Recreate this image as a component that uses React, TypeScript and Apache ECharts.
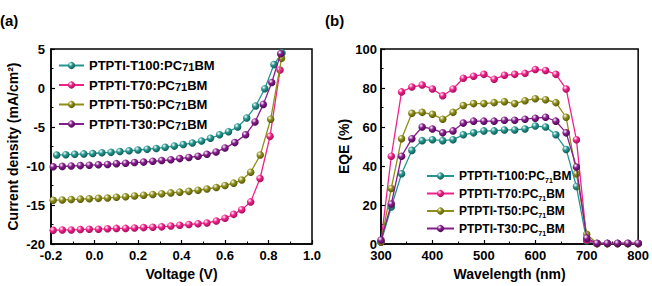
import React, { useEffect, useRef } from "react";
import * as echarts from "echarts";

const FONT = '"Liberation Sans", Arial, Helvetica, sans-serif';

const seriesNames = [
  "PTPTI-T100:PC71BM",
  "PTPTI-T70:PC71BM",
  "PTPTI-T50:PC71BM",
  "PTPTI-T30:PC71BM",
];
const baseColors = ["#25968f", "#f0228a", "#8e8e18", "#861d8c"];
const darkColors = ["#0c5752", "#a00c58", "#545408", "#4c0852"];

// J–V curves: [voltage (V), current density (mA/cm²)]
const jvT100 = [
  [-0.174, -8.6], [-0.132, -8.55], [-0.091, -8.5], [-0.049, -8.45], [-0.008, -8.4],
  [0.034, -8.3], [0.076, -8.25], [0.117, -8.15], [0.159, -8.05], [0.2, -7.95],
  [0.242, -7.85], [0.284, -7.75], [0.325, -7.6], [0.367, -7.45], [0.408, -7.25],
  [0.45, -7.05], [0.492, -6.8], [0.533, -6.45], [0.575, -6.0], [0.616, -5.6],
  [0.658, -5.0], [0.7, -3.85], [0.741, -2.3], [0.783, -0.1], [0.825, 3.0], [0.862, 4.5],
];
const jvT70 = [
  [-0.19, -18.25], [-0.148, -18.2], [-0.107, -18.2], [-0.065, -18.15], [-0.024, -18.1],
  [0.018, -18.1], [0.06, -18.05], [0.101, -18.0], [0.143, -18.0], [0.184, -17.95],
  [0.226, -17.9], [0.268, -17.85], [0.309, -17.8], [0.351, -17.7], [0.392, -17.6],
  [0.434, -17.5], [0.476, -17.4], [0.517, -17.3], [0.56, -17.05], [0.6, -16.7],
  [0.64, -16.2], [0.677, -15.6], [0.718, -14.6], [0.761, -11.6], [0.807, -6.2], [0.853, 2.3],
];
const jvT50 = [
  [-0.19, -14.4], [-0.148, -14.35], [-0.107, -14.3], [-0.065, -14.25], [-0.024, -14.2],
  [0.018, -14.15], [0.06, -14.1], [0.101, -14.0], [0.143, -13.95], [0.184, -13.85],
  [0.226, -13.75], [0.268, -13.65], [0.309, -13.55], [0.351, -13.45], [0.392, -13.35],
  [0.434, -13.25], [0.476, -13.1], [0.517, -12.95], [0.56, -12.75], [0.6, -12.5],
  [0.64, -12.2], [0.677, -11.8], [0.718, -10.8], [0.762, -8.6], [0.81, -4.0], [0.86, 3.8],
];
const jvT30 = [
  [-0.19, -10.1], [-0.148, -10.05], [-0.107, -10.0], [-0.065, -9.95], [-0.024, -9.9],
  [0.018, -9.85], [0.06, -9.8], [0.101, -9.7], [0.143, -9.65], [0.184, -9.55],
  [0.226, -9.5], [0.268, -9.4], [0.309, -9.3], [0.351, -9.2], [0.392, -9.05],
  [0.434, -8.9], [0.476, -8.75], [0.517, -8.5], [0.559, -8.2], [0.6, -7.7],
  [0.645, -7.0], [0.695, -6.0], [0.738, -4.35], [0.776, -2.1], [0.815, 0.7], [0.856, 4.4],
];

// EQE spectra (%), sampled every 20 nm
const wavelengths = [
  300, 320, 340, 360, 380, 400, 420, 440, 460, 480, 500, 520, 540,
  560, 580, 600, 620, 640, 660, 680, 700, 720, 740, 760, 780, 800,
];
const eqeT100 = [1, 19, 36, 48, 53, 53.5, 53, 53.5, 56, 57, 58, 58, 58.5, 58.5, 59, 60.5, 60, 56, 48.5, 29.5, 1.5, 0.2, 0.2, 0.2, 0.2, 0.2];
const eqeT70 = [1, 45, 78, 80.5, 81.5, 79.5, 76, 79.5, 85, 86, 87, 84.5, 86.5, 87, 87.5, 89.5, 89, 87, 79.5, 53.5, 2, 0.2, 0.2, 0.2, 0.2, 0.2];
const eqeT50 = [1, 28.5, 54, 67, 67.5, 66.5, 64, 67.5, 71, 72, 72, 72.5, 73, 72, 73.5, 74.5, 74, 72.5, 65, 36, 5, 0.3, 0.3, 0.3, 0.3, 0.3];
const eqeT30 = [2, 20.5, 45, 54, 60, 59, 57, 58, 62, 63, 63, 63, 63.5, 63.5, 64, 64.5, 65, 63, 57, 39.5, 3, 0.4, 0.4, 0.4, 0.4, 0.4];

const jvSets = [jvT100, jvT70, jvT50, jvT30];
const eqeSets = [eqeT100, eqeT70, eqeT50, eqeT30];

function sphere(base: string, dark: string) {
  return new echarts.graphic.RadialGradient(0.36, 0.32, 0.72, [
    { offset: 0, color: "#ffffff" },
    { offset: 0.42, color: base },
    { offset: 1, color: dark },
  ]);
}

function legendLabel(name: string) {
  const i = name.indexOf("71");
  return "{a|" + name.slice(0, i) + "}{s|71}{a|" + name.slice(i + 2) + "}";
}

const axisLineStyle = { onZero: false, lineStyle: { color: "#000", width: 1.5 } };
const axisTickStyle = { inside: true, length: 4, lineStyle: { color: "#000", width: 1.2 } };
const minorTickStyle = { show: true, splitNumber: 2, length: 2.5, lineStyle: { color: "#000", width: 1 } };
const tickLabel = { color: "#000", fontWeight: "bold", fontSize: 13, fontFamily: FONT };
const nameStyle = { color: "#000", fontWeight: "bold", fontSize: 14, fontFamily: FONT };

export default function App() {
  const ref = useRef<HTMLDivElement>(null);

  useEffect(() => {
    if (!ref.current) return;
    const chart = echarts.init(ref.current, null, { renderer: "svg" });

    const lineSeries = (idx: number, axis: number, data: number[][]) => ({
      type: "line",
      name: seriesNames[idx],
      xAxisIndex: axis,
      yAxisIndex: axis,
      data,
      symbol: "circle",
      symbolSize: 7.5,
      showSymbol: true,
      lineStyle: { color: baseColors[idx], width: 1.3 },
      itemStyle: { color: sphere(baseColors[idx], darkColors[idx]), borderWidth: 0 },
      emphasis: { disabled: true },
      z: 2 + idx,
    });

    const series: any[] = [];
    jvSets.forEach((d, i) => series.push(lineSeries(i, 0, d)));
    eqeSets.forEach((vals, i) =>
      series.push(lineSeries(i, 1, wavelengths.map((w, k) => [w, vals[k]])))
    );

    chart.setOption({
      animation: false,
      backgroundColor: "#fff",
      textStyle: { fontFamily: FONT },
      grid: [
        { left: 51, top: 49, width: 261, height: 197, show: true, borderColor: "#000", borderWidth: 1.5, backgroundColor: "transparent" },
        { left: 381, top: 49, width: 261, height: 197, show: true, borderColor: "#000", borderWidth: 1.5, backgroundColor: "transparent" },
      ],
      xAxis: [
        {
          gridIndex: 0, type: "value", min: -0.2, max: 1.0, interval: 0.2,
          axisLine: axisLineStyle, axisTick: axisTickStyle, minorTick: minorTickStyle,
          splitLine: { show: false },
          axisLabel: { ...tickLabel, margin: 5, formatter: (v: number) => v.toFixed(1) },
          name: "Voltage (V)", nameLocation: "middle", nameGap: 23, nameTextStyle: nameStyle,
        },
        {
          gridIndex: 1, type: "value", min: 300, max: 800, interval: 100,
          axisLine: axisLineStyle, axisTick: axisTickStyle, minorTick: minorTickStyle,
          splitLine: { show: false },
          axisLabel: { ...tickLabel, margin: 5 },
          name: "Wavelength (nm)", nameLocation: "middle", nameGap: 23, nameTextStyle: nameStyle,
        },
      ],
      yAxis: [
        {
          gridIndex: 0, type: "value", min: -20, max: 5, interval: 5,
          axisLine: axisLineStyle, axisTick: axisTickStyle, minorTick: minorTickStyle,
          splitLine: { show: false },
          axisLabel: { ...tickLabel, margin: 6 },
          name: "Current density (mA/cm²)", nameLocation: "middle", nameGap: 31, nameTextStyle: nameStyle,
        },
        {
          gridIndex: 1, type: "value", min: 0, max: 100, interval: 20,
          axisLine: axisLineStyle, axisTick: axisTickStyle, minorTick: minorTickStyle,
          splitLine: { show: false },
          axisLabel: { ...tickLabel, margin: 4 },
          name: "EQE (%)", nameLocation: "middle", nameGap: 30, nameTextStyle: nameStyle,
        },
      ],
      legend: [
        {
          data: seriesNames, orient: "vertical", left: 53, top: 54,
          itemWidth: 25, itemHeight: 9, itemGap: 6,
          formatter: legendLabel,
          textStyle: {
            rich: {
              a: { fontSize: 13, fontWeight: "bold", fontFamily: FONT, color: "#000", lineHeight: 14 },
              s: { fontSize: 11, fontWeight: "bold", fontFamily: FONT, color: "#000", lineHeight: 8, verticalAlign: "bottom" },
            },
          },
          selectedMode: false,
        },
        {
          data: seriesNames, orient: "vertical", left: 421, top: 165,
          itemWidth: 27, itemHeight: 9, itemGap: 3.5,
          formatter: legendLabel,
          textStyle: {
            rich: {
              a: { fontSize: 12, fontWeight: "bold", fontFamily: FONT, color: "#000", lineHeight: 16 },
              s: { fontSize: 7, fontWeight: "bold", fontFamily: FONT, color: "#000", lineHeight: 8, verticalAlign: "bottom" },
            },
          },
          selectedMode: false,
        },
      ],
      graphic: [
        { type: "text", left: 0, top: 13, style: { text: "(a)", font: `bold 15px ${FONT}`, fill: "#000" } },
        { type: "text", left: 325, top: 13, style: { text: "(b)", font: `bold 15px ${FONT}`, fill: "#000" } },
      ],
      series,
    });

    return () => chart.dispose();
  }, []);

  return (
    <div
      ref={ref}
      style={{ position: "fixed", left: 0, top: 0, width: 652, height: 286, background: "#fff" }}
    />
  );
}
